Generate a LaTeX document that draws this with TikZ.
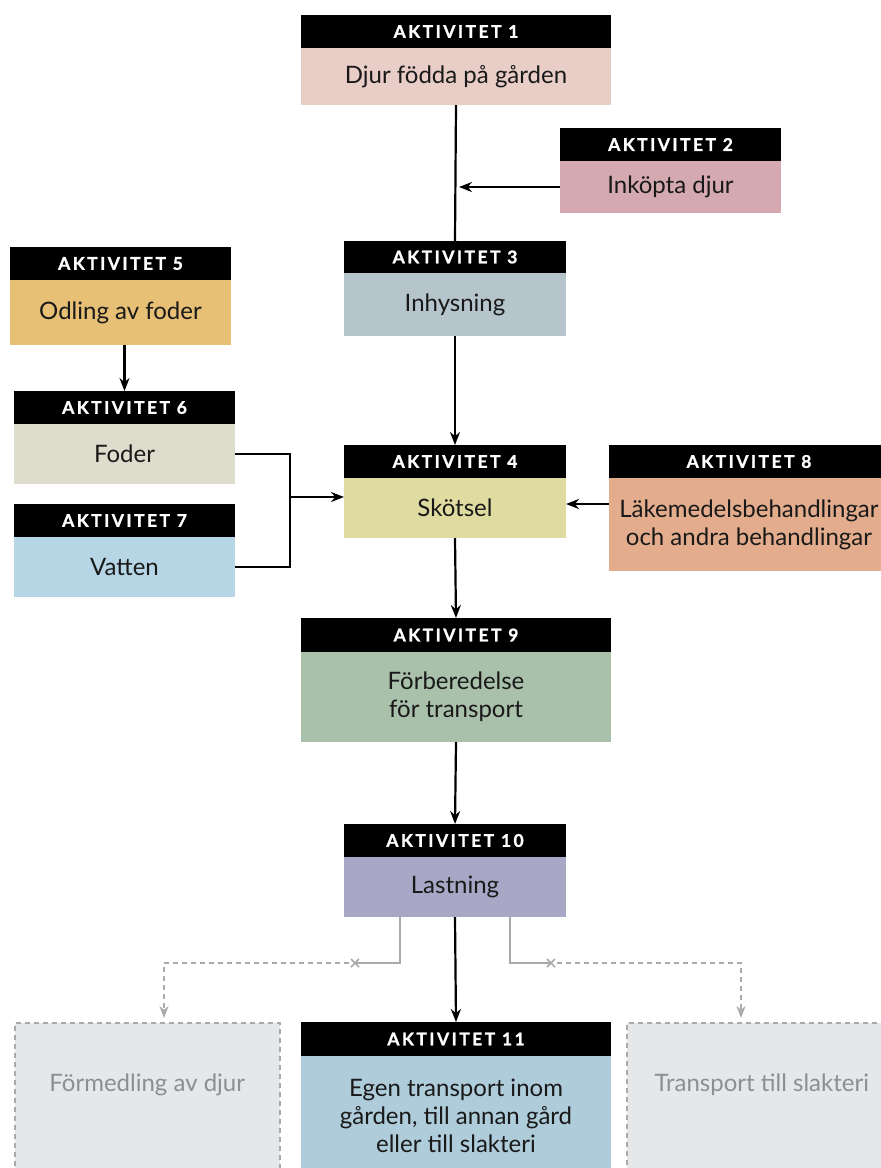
\documentclass[tikz,border=0pt]{standalone}
\usepackage{fontspec}
\setmainfont{Lato}
\newfontfamily\hdrfam[LetterSpace=14,FakeBold=1.2]{Lato}
\usetikzlibrary{arrows.meta}
\definecolor{cA}{HTML}{E9CDC7}
\definecolor{cB}{HTML}{D4A9B0}
\definecolor{cC}{HTML}{B6C4CB}
\definecolor{cD}{HTML}{E0DBA0}
\definecolor{cE}{HTML}{E7BF75}
\definecolor{cF}{HTML}{DEDCCD}
\definecolor{cG}{HTML}{B6D6E5}
\definecolor{cH}{HTML}{E3AD8D}
\definecolor{cI}{HTML}{A9C0AB}
\definecolor{cJ}{HTML}{A8A7C5}
\definecolor{cK}{HTML}{AFCCDA}
\definecolor{gbox}{HTML}{E6E7E8}
\definecolor{gline}{HTML}{AAAAAA}
\definecolor{gtext}{HTML}{8C8F92}
\tikzset{
  hdr/.style={fill=black,text=white,font=\hdrfam\bfseries\fontsize{17.5}{18}\selectfont,inner sep=0pt,outer sep=0pt,anchor=north west},
  bodybox/.style={font=\fontsize{24}{28}\selectfont,inner sep=0pt,outer sep=0pt,anchor=north west,align=center,text=black!90},
  arr/.style={line width=2.2pt,-{Stealth[length=13pt,width=10pt]}},
  ln/.style={line width=2.2pt},
  garr/.style={line width=2pt,gline,dashed,dash pattern=on 5pt off 4pt,-{Stealth[length=12pt,width=9pt]}},
  gln/.style={line width=2pt,gline},
  gboxst/.style={fill=gbox,draw=gline,line width=1.5pt,dash pattern=on 5pt off 4pt,anchor=north west,inner sep=0pt},
  gtxt/.style={font=\fontsize{24}{28}\selectfont,text=gtext}
}
\newcommand\actbox[9]{%
  \node[hdr,minimum width=#4pt,minimum height=#5pt] (h#1) at (#2,#3) {AKTIVITET #8};
  \node[bodybox,fill=#7,minimum width=#4pt,minimum height=#6pt] (b#1) at (h#1.south west) {#9};
}
\begin{document}
\begin{tikzpicture}[x=1pt,y=-1pt]
\useasboundingbox (0,0) rectangle (881,1168);
\clip (0,0) rectangle (881,1168);
\fill[white] (0,0) rectangle (881,1168);
\actbox{1}{301}{15}{310}{33}{57}{cA}{1}{Djur födda på gården}
\actbox{2}{560}{128}{221}{33}{52}{cB}{2}{Inköpta djur}
\actbox{3}{344}{241}{222}{32}{63}{cC}{3}{Inhysning}
\actbox{5}{10}{247}{221}{33}{65}{cE}{5}{Odling av foder}
\actbox{6}{14}{391}{221}{33}{60}{cF}{6}{Foder}
\actbox{7}{14}{504}{221}{33}{60}{cG}{7}{Vatten}
\actbox{4}{344}{445}{222}{33}{60}{cD}{4}{Skötsel}
\actbox{8}{609}{445}{280}{33}{93}{cH}{8}{Läkemedelsbehandlingar\\och andra behandlingar}
\actbox{9}{301}{618}{310}{34}{90}{cI}{9}{Förberedelse\\för transport}
\actbox{10}{344}{824}{222}{33}{60}{cJ}{10}{Lastning}
\actbox{11}{301}{1022}{310}{34}{120}{cK}{11}{Egen transport inom\\gården, till annan gård\\eller till slakteri}
% grey boxes
\node[gboxst,minimum width=265pt,minimum height=160pt] (gl) at (14,1022) {};
\node[gboxst,minimum width=270pt,minimum height=160pt] (gr) at (626,1022) {};
\node[gtxt] (tl) at (gl.north |- 0,1085) {Förmedling av djur};
\node[gtxt] (tr) at (gr.north |- 0,1085) {Transport till slakteri};
% connectors
\coordinate (j2) at ([xshift=3pt]b1.south |- b2.west);
\draw[ln] (b1.south) -- (h3.north);
\draw[arr] (b2.west) -- (j2);
\draw[arr] (b3.south) -- (h4.north);
\draw[arr] (b5.south -| h6.north) -- (h6.north);
\coordinate (m67) at (290,497);
\draw[ln] (b6.east) -| (m67);
\draw[ln] (b7.east) -| (m67);
\draw[arr] (m67) -- (m67 -| b4.west);
\draw[arr] (b8.west |- 0,504) -- (b4.east |- 0,504);
\draw[arr] (b4.south) -- (h9.north);
\draw[arr] (b9.south) -- (h10.north);
\draw[arr] (b10.south) -- (h11.north);
% grey connectors
\coordinate (gl1) at (400,917);
\coordinate (xl) at (355,963);
\coordinate (gr1) at (510,917);
\coordinate (xr) at (551,963);
\draw[gln] (gl1) |- (xl);
\draw[gln] (gr1) |- (xr);
\draw[gline,line width=1.5pt] ([shift={(-4,-4)}]xl) -- ([shift={(4,4)}]xl) ([shift={(-4,4)}]xl) -- ([shift={(4,-4)}]xl);
\draw[gline,line width=1.5pt] ([shift={(-4,-4)}]xr) -- ([shift={(4,4)}]xr) ([shift={(-4,4)}]xr) -- ([shift={(4,-4)}]xr);
\draw[garr] ([xshift=-6pt]xl) -| (164,1018);
\draw[garr] ([xshift=6pt]xr) -| (741,1018);
\end{tikzpicture}
\end{document}
